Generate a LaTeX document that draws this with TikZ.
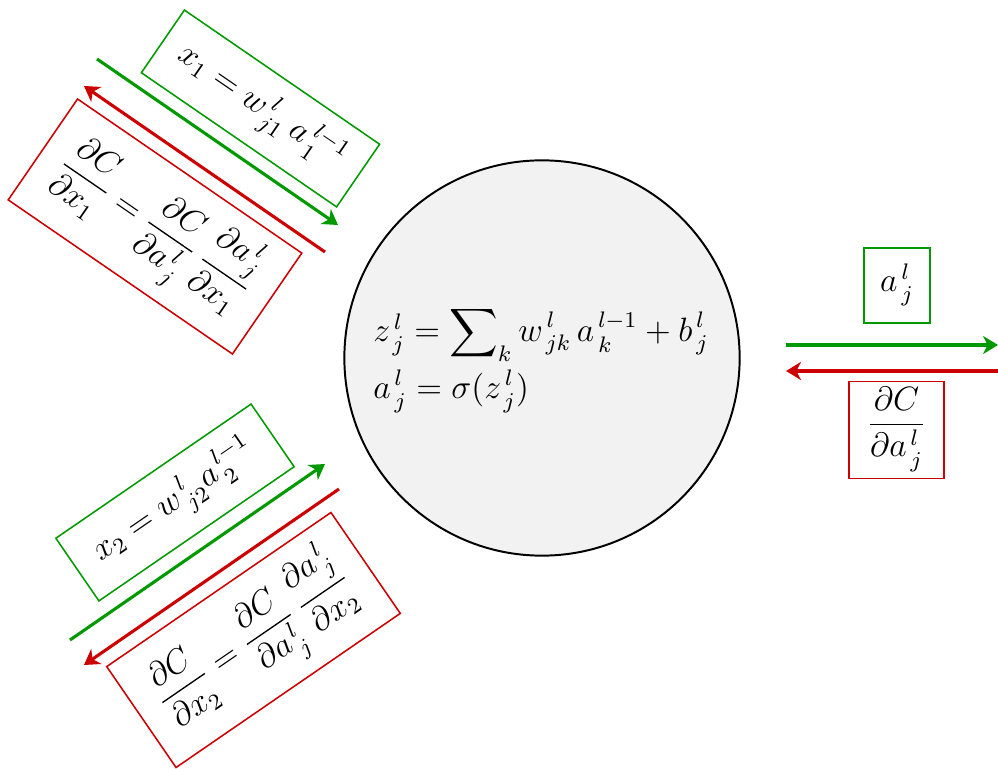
\documentclass[tikz,border=0pt]{standalone}
\usepackage{amsmath}
\usetikzlibrary{arrows.meta}
\definecolor{fgreen}{RGB}{0,153,0}
\definecolor{bred}{RGB}{204,0,0}
\newcommand\sbsp[3]{#1^{\,#2}_{\,#3\vphantom{(}}}
\begin{document}
\begin{tikzpicture}[x=0.0125cm,y=-0.0125cm,
  gbox/.style={draw=fgreen, line width=0.55pt, inner sep=2pt, font=\large},
  rbox/.style={draw=bred, line width=0.55pt, inner sep=2pt, font=\large},
  fwd/.style={draw=fgreen, line width=1.1pt, -{Stealth[length=5.3pt,width=6.4pt,inset=1.6pt]}},
  bwd/.style={draw=bred, line width=1.1pt, -{Stealth[length=5.3pt,width=6.4pt,inset=1.6pt]}}]
\useasboundingbox (0,0) rectangle (998,769);
% neuron
\node[circle, draw, fill=black!5, line width=0.7pt, minimum size=4.94cm, inner sep=0pt] (neuron) at (542,358) {};
\node[align=left, font=\large] (eqs) at (541,360)
  {$\sbsp{z}{l}{j} = \displaystyle\sum\nolimits_k \sbsp{w}{l}{jk}\,\sbsp{a}{l-1}{k} + \sbsp{b}{l}{j}$\\[2pt]
   $\sbsp{a}{l}{j} = \sigma(\sbsp{z}{l}{j})$};
% top-left
\node[gbox, rotate=-34.5, minimum width=2.96cm, minimum height=0.95cm] (x1) at (260.5,108.5)
  {$x_1 = \sbsp{w}{l}{j1}\,\sbsp{a}{l-1}{1}$};
\node[rbox, rotate=-34.5, minimum width=3.4cm, minimum height=1.53cm] (dx1) at (155,226.5)
  {$\dfrac{\partial C}{\partial x_1} = \dfrac{\partial C}{\partial \sbsp{a}{l}{j}}\,\dfrac{\partial \sbsp{a}{l}{j}}{\partial x_1}$};
% bottom-left
\node[gbox, rotate=34.5, minimum width=2.96cm, minimum height=0.95cm] (x2) at (175,502.5)
  {$x_2 = \sbsp{w}{l}{j2}\sbsp{a}{l-1}{2}$};
\node[rbox, rotate=34.5, minimum width=3.4cm, minimum height=1.53cm] (dx2) at (253.5,640)
  {$\dfrac{\partial C}{\partial x_2} = \dfrac{\partial C}{\partial \sbsp{a}{l}{j}}\,\dfrac{\partial \sbsp{a}{l}{j}}{\partial x_2}$};
% right
\node[gbox, minimum width=0.83cm, minimum height=0.94cm] (aout) at (897,285.5) {$\sbsp{a}{l}{j}$};
\node[rbox, minimum width=1.19cm, minimum height=1.2cm] (dout) at (896.5,430)
  {$\dfrac{\partial C}{\partial \sbsp{a}{l}{j}}$};
% arrows
\coordinate (g1s) at (97,59);   \coordinate (g1e) at (338,225);
\coordinate (r1s) at (325,252); \coordinate (r1e) at (84,86);
\coordinate (g2s) at (70,640);  \coordinate (g2e) at (325,464);
\coordinate (r2s) at (339,489); \coordinate (r2e) at (84,665);
\coordinate (g3s) at (786,345); \coordinate (g3e) at (998,345);
\coordinate (r3s) at (998,371); \coordinate (r3e) at (786,371);
\draw[fwd] (g1s) -- (g1e);
\draw[bwd] (r1s) -- (r1e);
\draw[fwd] (g2s) -- (g2e);
\draw[bwd] (r2s) -- (r2e);
\draw[fwd] (g3s) -- (g3e);
\draw[bwd] (r3s) -- (r3e);
\end{tikzpicture}
\end{document}
